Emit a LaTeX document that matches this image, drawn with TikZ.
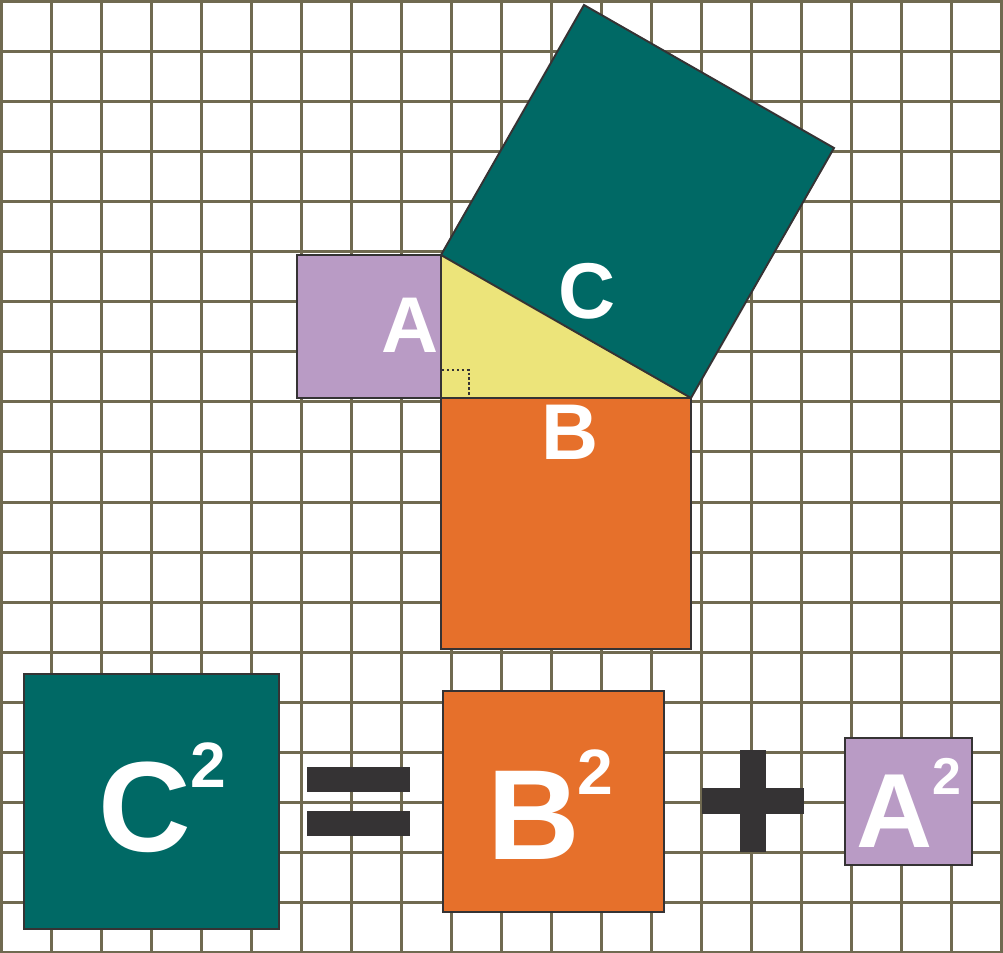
\documentclass[tikz,border=0pt]{standalone}
\usepackage{fontspec}
\setmainfont{Liberation Sans}
\usetikzlibrary{arrows.meta}

\definecolor{gridline}{RGB}{112,106,80}
\definecolor{teal}{RGB}{0,105,101}
\definecolor{lilac}{RGB}{185,155,197}
\definecolor{carrot}{RGB}{230,112,43}
\definecolor{lemon}{RGB}{236,228,122}
\definecolor{ink}{RGB}{53,51,52}

\begin{document}
\begin{tikzpicture}[
    x=1cm, y=-1cm,
    tile/.style={draw=ink, line width=1.1pt, line join=miter},
    bar/.style={fill=ink, draw=none},
    lbl/.style={text=white, font=\bfseries\fontsize{45}{45}\selectfont,
        inner sep=0pt, anchor=base},
    big/.style={text=white, font=\bfseries\fontsize{73}{73}\selectfont,
        inner sep=0pt, anchor=base},
    bigexp/.style={text=white, font=\bfseries\fontsize{36.5}{36.5}\selectfont,
        inner sep=0pt, anchor=base},
    mid/.style={text=white, font=\bfseries\fontsize{60}{60}\selectfont,
        inner sep=0pt, anchor=base},
    midexp/.style={text=white, font=\bfseries\fontsize{29.5}{29.5}\selectfont,
        inner sep=0pt, anchor=base}
]
\useasboundingbox (0,0) rectangle (20.06,19.06);

% squared paper
\foreach \i in {0,...,20}
    \draw[gridline, line width=0.06cm] (0.03+\i,0) -- (0.03+\i,19.06);
\foreach \j in {0,...,19}
    \draw[gridline, line width=0.06cm] (0,0.04+\j) -- (20.06,0.04+\j);

% the right triangle and its three squares
\coordinate (top)   at (8.82,5.10);
\coordinate (right) at (8.82,7.96);
\coordinate (far)   at (13.82,7.96);

\fill[lemon] (top) -- (right) -- (far) -- cycle;
\draw[tile, fill=lilac]  (5.94,5.10) rectangle (right);
\draw[tile, fill=carrot] (right) rectangle (13.82,12.98);
\draw[tile, fill=teal]   (top) -- (far) -- (16.68,2.96) -- (11.68,0.10) -- cycle;
\draw[ink, line width=1.3pt, dash pattern=on 1.4pt off 1.4pt]
    (8.84,7.40) -| (9.38,7.96);
\draw[tile] (top) -- (right) -- (far);

\node[lbl] (la) at (8.20,7.06) {A};
\node[lbl] (lc) at (11.74,6.38) {C};
\node[lbl] (lb) at (11.40,9.18) {B};

% the equation
\draw[tile, fill=teal]   (0.48,13.48) rectangle (5.58,18.58);
\draw[tile, fill=carrot] (8.86,13.82) rectangle (13.28,18.24);
\draw[tile, fill=lilac]  (16.90,14.76) rectangle (19.44,17.30);

\fill[bar] (6.14,15.34) rectangle (8.20,15.84);
\fill[bar] (6.14,16.22) rectangle (8.20,16.72);
\fill[bar] (14.80,15.00) rectangle (15.32,17.04);
\fill[bar] (14.04,15.76) rectangle (16.08,16.28);

\node[big]    (csq)  at (2.90,17.02)  {C};
\node[bigexp] (cexp) at (4.17,15.74)  {2};
\node[big]    (bsq)  at (10.68,17.18) {B};
\node[bigexp] (bexp) at (11.91,15.88) {2};
\node[mid]    (asq)  at (17.90,16.94) {A};
\node[midexp] (aexp) at (18.94,15.88) {2};

\end{tikzpicture}
\end{document}
